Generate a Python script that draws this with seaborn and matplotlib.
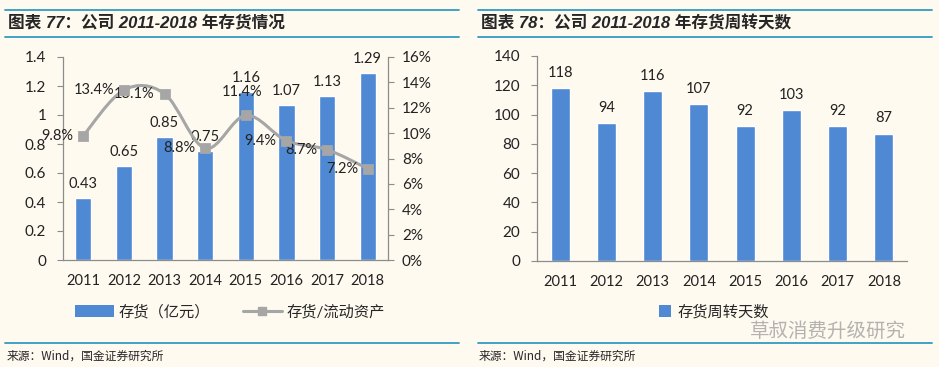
import numpy as np
import pandas as pd
import matplotlib
matplotlib.use("Agg")
import matplotlib.pyplot as plt
import seaborn as sns
from matplotlib.path import Path
from matplotlib.patches import PathPatch, Patch
from matplotlib.lines import Line2D

# ---------------------------------------------------------------- data
years = ["2011", "2012", "2013", "2014", "2015", "2016", "2017", "2018"]
inventory = [0.43, 0.65, 0.85, 0.75, 1.16, 1.07, 1.13, 1.29]          # 亿元
inv_ratio = [9.8, 13.4, 13.1, 8.8, 11.4, 9.4, 8.7, 7.2]              # %
turnover_days = [118, 94, 116, 107, 92, 103, 92, 87]

left_ticks = [0, 0.2, 0.4, 0.6, 0.8, 1, 1.2, 1.4]
left_tick_labels = ["0", "0.2", "0.4", "0.6", "0.8", "1", "1.2", "1.4"]
ratio_ticks = [0, 2, 4, 6, 8, 10, 12, 14, 16]
right_ticks = [0, 20, 40, 60, 80, 100, 120, 140]

# ---------------------------------------------------------------- style
BG = "#FEFAF0"
BLUE = "#4F88D3"
GREY = "#A6A6A6"
AXIS = "#8C8C8C"
TEAL = "#2F9BC1"

sns.set_style("white")
plt.rcParams["font.family"] = ["Lato", "Noto Sans CJK SC", "DejaVu Sans"]
plt.rcParams["axes.facecolor"] = BG
plt.rcParams["figure.facecolor"] = BG

fig = plt.figure(figsize=(9.39, 3.67), dpi=100)
W, H = 939, 367


def fx(px):
    return px / W


def fy(py):
    return 1 - py / H


def hline(x0, x1, y):
    fig.add_artist(Line2D([fx(x0), fx(x1)], [fy(y), fy(y)], color=TEAL, lw=1.3,
                          transform=fig.transFigure))


def style_axis(ax):
    for s in ["top", "right"]:
        ax.spines[s].set_visible(False)
    for s in ["left", "bottom"]:
        ax.spines[s].set_color(AXIS)
        ax.spines[s].set_linewidth(0.9)
    ax.set_xlim(-0.5, len(years) - 0.5)
    ax.set_xticks(range(len(years)))
    ax.set_xticklabels(years, fontsize=10.5, color="#222222")
    ax.set_xticks(np.arange(-0.5, len(years), 1.0), minor=True)
    ax.tick_params(axis="x", which="major", length=0, pad=10)
    ax.tick_params(axis="x", which="minor", length=4, color=AXIS, direction="out")
    ax.tick_params(axis="y", length=4, color=AXIS, direction="out", labelsize=11,
                   labelcolor="#222222", left=True, pad=8)
    ax.set_xlabel("")
    ax.set_ylabel("")


# ---------------------------------------------------------------- frame texts
for x0, x1 in [(5, 459), (478, 932)]:
    hline(x0, x1, 10)
    hline(x0, x1, 37)
    hline(x0, x1, 343)

fig.text(fx(8), fy(23), "图表 77：公司 2011-2018 年存货情况", fontsize=12,
         fontweight="bold", style="italic", va="center",
         family=["Liberation Sans", "Noto Sans CJK SC"])
fig.text(fx(481), fy(23), "图表 78：公司 2011-2018 年存货周转天数", fontsize=12,
         fontweight="bold", style="italic", va="center",
         family=["Liberation Sans", "Noto Sans CJK SC"])
fig.text(fx(7), fy(356), "来源：Wind，国金证券研究所", fontsize=8.5, va="center",
         family=["Noto Sans CJK SC", "DejaVu Sans"])
fig.text(fx(479), fy(356), "来源：Wind，国金证券研究所", fontsize=8.5, va="center",
         family=["Noto Sans CJK SC", "DejaVu Sans"])

# ---------------------------------------------------------------- left chart
df_left = pd.DataFrame({"year": years, "inventory": inventory, "ratio": inv_ratio})

ax1 = fig.add_axes([fx(63), fy(260), fx(388 - 63), (260 - 57) / H])
sns.barplot(data=df_left, x="year", y="inventory", color=BLUE, width=0.4,
            saturation=1, ax=ax1)
ax1.set_ylim(0, 1.4)
ax1.set_yticks(left_ticks)
ax1.set_yticklabels(left_tick_labels)
style_axis(ax1)
for i, v in enumerate(inventory):
    ax1.annotate(f"{v:.2f}", (i, v), xytext=(0, 5), textcoords="offset points",
                 ha="center", va="bottom", fontsize=10.5, color="#222222")

ax2 = ax1.twinx()
ax2.set_ylim(0, 16)
ax2.set_yticks(ratio_ticks)
ax2.set_yticklabels([f"{t}%" for t in ratio_ticks])
for s in ["top", "left", "bottom"]:
    ax2.spines[s].set_visible(False)
ax2.spines["right"].set_color(AXIS)
ax2.spines["right"].set_linewidth(0.9)
ax2.tick_params(axis="y", length=4, color=AXIS, direction="out", labelsize=11,
                labelcolor="#222222", pad=6)

# smoothed line (Catmull-Rom rendered as cubic Bezier through the data points)
pts = np.column_stack([np.arange(len(inv_ratio)), inv_ratio]).astype(float)
verts = [tuple(pts[0])]
codes = [Path.MOVETO]
for i in range(len(pts) - 1):
    p0 = pts[i - 1] if i > 0 else pts[i]
    p1, p2 = pts[i], pts[i + 1]
    p3 = pts[i + 2] if i + 2 < len(pts) else pts[i + 1]
    c1 = p1 + (p2 - p0) / 6
    c2 = p2 - (p3 - p1) / 6
    verts += [tuple(c1), tuple(c2), tuple(p2)]
    codes += [Path.CURVE4] * 3
ax2.add_patch(PathPatch(Path(verts, codes), facecolor="none", edgecolor=GREY, lw=2.2,
                        zorder=3))
df_line = pd.DataFrame({"pos": np.arange(len(years)), "ratio": inv_ratio})
sns.scatterplot(data=df_line, x="pos", y="ratio", marker="s", s=45, color=GREY,
                edgecolor=GREY, ax=ax2, zorder=4)
ax2.set_xlabel("")
ax2.set_ylabel("")
ax2.set_xlim(-0.5, len(years) - 0.5)

label_pos = ["left", "left", "left", "left", "above", "left", "left", "left"]
for i, (v, p) in enumerate(zip(inv_ratio, label_pos)):
    if p == "left":
        ax2.annotate(f"{v:.1f}%", (i, v), xytext=(-7, 0), textcoords="offset points",
                     ha="right", va="center", fontsize=10.5, color="#222222")
    else:
        ax2.annotate(f"{v:.1f}%", (i, v), xytext=(-3, 12), textcoords="offset points",
                     ha="center", va="bottom", fontsize=10.5, color="#222222")

fig.legend(handles=[Patch(facecolor=BLUE, edgecolor="none", label="存货（亿元）"),
                    Line2D([0], [0], color=GREY, lw=2.2, marker="s", markersize=6,
                           label="存货/流动资产")],
           loc="center", bbox_to_anchor=(fx(230), fy(312)), ncol=2, frameon=False,
           fontsize=11, handlelength=2.5, handleheight=0.8, columnspacing=2.2,
           handletextpad=0.3)

# ---------------------------------------------------------------- right chart
df_right = pd.DataFrame({"year": years, "days": turnover_days})
ax3 = fig.add_axes([fx(537), fy(261), fx(907 - 537), (261 - 56) / H])
sns.barplot(data=df_right, x="year", y="days", color=BLUE, width=0.41,
            saturation=1, ax=ax3)
ax3.set_ylim(0, 140)
ax3.set_yticks(right_ticks)
style_axis(ax3)
for i, v in enumerate(turnover_days):
    ax3.annotate(f"{v}", (i, v), xytext=(0, 6), textcoords="offset points",
                 ha="center", va="bottom", fontsize=10.5, color="#222222")

fig.legend(handles=[Patch(facecolor=BLUE, edgecolor="none", label="存货周转天数")],
           loc="center", bbox_to_anchor=(fx(714), fy(312)), frameon=False,
           fontsize=11, handlelength=0.8, handleheight=0.8, handletextpad=0.4)

# watermark
fig.text(fx(906), fy(331), "草叔消费升级研究", fontsize=14, color="#9A9A9A",
         alpha=0.75, ha="right", va="center",
         family=["Noto Sans CJK SC", "DejaVu Sans"])

fig.savefig("out.png", dpi=100, facecolor=BG)
